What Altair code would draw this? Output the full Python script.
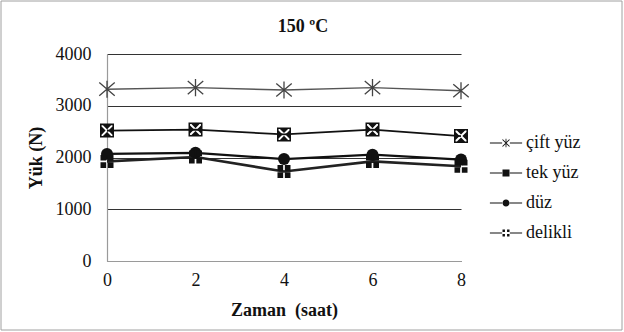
import altair as alt
import pandas as pd

times = [0, 2, 4, 6, 8]
series_names = ["çift yüz", "tek yüz", "düz", "delikli"]
cift_yuz = [3320, 3350, 3305, 3350, 3290]
tek_yuz = [2520, 2540, 2445, 2540, 2415]
duz = [2070, 2090, 1970, 2055, 1960]
delikli = [1925, 2010, 1730, 1925, 1830]
y_ticks = [0, 500, 1000, 1500, 2000, 2500, 3000, 3500, 4000]
x_ticks = [0, 2, 4, 6, 8]

rows = []
for name, vals in zip(series_names, [cift_yuz, tek_yuz, duz, delikli]):
    for t, v in zip(times, vals):
        rows.append({"seri": name, "zaman": t, "yuk": v})
df = pd.DataFrame(rows)

FONT = "Liberation Serif, Times New Roman, serif"

# marker paths (plot)
ASTER = "M-1,-0.85L1,0.85M-1,0.85L1,-0.85M0,-1.1L0,1.1"
SQX = ("M-1,-1H1V1H-1Z M-0.78,-0.78V0.78H0.78V-0.78Z "
       "M-0.58,-0.78L0.58,-0.78L0,-0.2Z M0.78,-0.58L0.78,0.58L0.2,0Z "
       "M0.58,0.78L-0.58,0.78L0,0.2Z M-0.78,0.58L-0.78,-0.58L-0.2,0Z")
SQPLUS = ("M-1,-1H-0.13V-0.13H-1Z M0.13,-1H1V-0.13H0.13Z "
          "M-1,0.13H-0.13V1H-1Z M0.13,0.13H1V1H0.13Z")
CIRCLE = "circle"

# legend symbols: all filled shapes, with thin filled stubs left and right
STUB = " M-4.6,-0.17H-1.1V0.17H-4.6Z M1.1,-0.17H4.6V0.17H1.1Z"
LEG_ASTER = ("M-0.12,-1.2H0.12V1.2H-0.12Z "
             "M-0.9,-1.1L1.1,0.9L0.9,1.1L-1.1,-0.9Z "
             "M0.9,-1.1L1.1,-0.9L-0.9,1.1L-1.1,0.9Z" + STUB)
LEG_SQX = ("M-1,-1H1V1H-1Z" + STUB)
LEG_CIRC = "M-1,0A1,1,0,1,1,1,0A1,1,0,1,1,-1,0Z" + STUB
LEG_SQPLUS = ("M-1,-1H-0.3V-0.3H-1Z M0.3,-1H1V-0.3H0.3Z "
              "M-1,0.3H-0.3V1H-1Z M0.3,0.3H1V1H0.3Z" + STUB)

x_enc = alt.X("zaman:Q",
              scale=alt.Scale(domain=[0, 8], nice=False, zero=False),
              axis=alt.Axis(values=x_ticks, title="Zaman\u00a0 (saat)", grid=False,
                            ticks=False, domainColor="#9a9a9a", domainWidth=1.2,
                            format="d", labelFontSize=18, labelColor="#111",
                            labelFont=FONT,
                            labelPadding=10, titleFontSize=18, titleFont=FONT,
                            titleFontWeight="bold", titleColor="#111",
                            titlePadding=12, labelFlush=False))
y_enc = alt.Y("yuk:Q",
              scale=alt.Scale(domain=[0, 4000], nice=False),
              axis=alt.Axis(values=y_ticks, title="Yük (N)", grid=True,
                            gridColor="#333", gridWidth=1.2, format="d",
                            ticks=False, domainColor="#9a9a9a", domainWidth=1.2,
                            labelFontSize=18, labelColor="#111", labelFont=FONT,
                            labelPadding=16, titleFontSize=18, titleFont=FONT,
                            titleFontWeight="bold", titleColor="#111",
                            titlePadding=10))

base = alt.Chart(df)

lines = base.mark_line().encode(
    x=x_enc, y=y_enc, detail="seri:N",
    color=alt.Color("seri:N", scale=alt.Scale(domain=series_names,
                    range=["#555555", "#111111", "#111111", "#222222"]), legend=None),
    strokeWidth=alt.StrokeWidth("seri:N", scale=alt.Scale(domain=series_names,
                    range=[1.4, 2.6, 2.2, 1.6]), legend=None),
)

def pts(name, shape, size, filled, color, sw):
    return base.transform_filter(alt.datum.seri == name).mark_point(
        shape=shape, size=size, filled=filled, fill=color if filled else "transparent",
        stroke=color, strokeWidth=sw, opacity=1).encode(x="zaman:Q", y="yuk:Q")

p1 = pts("çift yüz", ASTER, 240, False, "#444444", 1.3)
p2 = pts("tek yüz", SQX, 196, True, "#111111", 0)
p3 = pts("düz", CIRCLE, 144, True, "#111111", 0)
p4 = pts("delikli", SQPLUS, 169, True, "#111111", 0)

legend_layer = base.mark_point(filled=True, color="#111111", opacity=0, size=49).encode(
    x="zaman:Q", y="yuk:Q",
    shape=alt.Shape("seri:N",
                    scale=alt.Scale(domain=series_names,
                                    range=[LEG_ASTER, LEG_SQX, LEG_CIRC, LEG_SQPLUS]),
                    legend=alt.Legend(title=None, orient="none", legendX=390, legendY=80,
                                      symbolSize=49, symbolOpacity=1,
                                      symbolFillColor="#111111",
                                      labelFontSize=18, labelFont=FONT,
                                      labelColor="#111", labelOffset=11,
                                      rowPadding=12, padding=0)),
)

frame = alt.Chart(pd.DataFrame({"k": [0]})).mark_rect(
    fill="transparent", stroke="#a0a0a0", strokeWidth=1).encode(
    x=alt.value(-106), x2=alt.value(515), y=alt.value(-53), y2=alt.value(276))

chart = alt.layer(lines, p1, p2, p3, p4, legend_layer, frame).resolve_scale(
    shape="independent"
).properties(
    width=354, height=207,
    title=alt.TitleParams("150 ºC", fontSize=18, fontWeight="bold", font=FONT,
                          color="#111", anchor="middle", dx=19, dy=35, offset=0),
    autosize=alt.AutoSizeParams(type="none"),
    padding={"left": 107, "top": 54, "right": 163, "bottom": 71},
).configure(
    background="white", font=FONT
).configure_view(
    stroke="transparent"
)

chart.save("out.html", embed_options={"renderer": "svg", "actions": False})
